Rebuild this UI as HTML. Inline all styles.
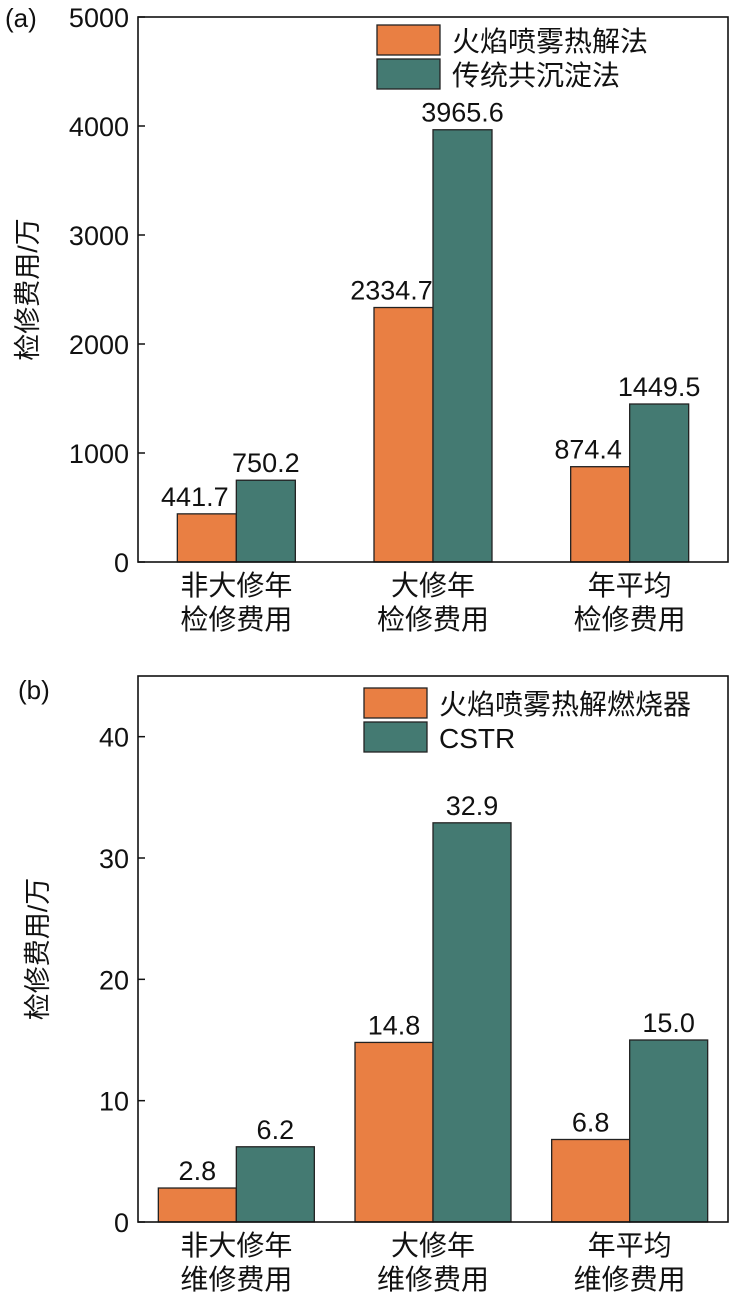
<!DOCTYPE html>
<html><head><meta charset="utf-8"><style>
body{margin:0;background:#fff;width:737px;height:1306px;overflow:hidden}
svg text{font-family:"Liberation Sans","Noto Sans CJK SC",sans-serif;fill:#111}
</style></head><body>
<svg id="s" width="737" height="1306" xmlns="http://www.w3.org/2000/svg"></svg>
<script>
const catsA = [["非大修年","检修费用"],["大修年","检修费用"],["年平均","检修费用"]];
const seriesA1 = [441.7, 2334.7, 874.4];
const seriesA2 = [750.2, 3965.6, 1449.5];
const labelsA1 = ["441.7","2334.7","874.4"];
const labelsA2 = ["750.2","3965.6","1449.5"];
const ticksA = [0,1000,2000,3000,4000,5000];
const legendA = ["火焰喷雾热解法","传统共沉淀法"];
const catsB = [["非大修年","维修费用"],["大修年","维修费用"],["年平均","维修费用"]];
const seriesB1 = [2.8, 14.8, 6.8];
const seriesB2 = [6.2, 32.9, 15.0];
const labelsB1 = ["2.8","14.8","6.8"];
const labelsB2 = ["6.2","32.9","15.0"];
const ticksB = [0,10,20,30,40];
const legendB = ["火焰喷雾热解燃烧器","CSTR"];

const NS="http://www.w3.org/2000/svg", svg=document.getElementById('s');
function el(t,a,txt,p){const e=document.createElementNS(NS,t);for(const k in a)e.setAttribute(k,a[k]);if(txt!=null)e.textContent=txt;(p||svg).appendChild(e);return e;}
const OR="#e97f43", TE="#447a72";

function chart(o){
  const g=el('g',{});
  
  
  const L=138,R=728,T=o.top,B=o.bottom;
  const y=v=>B-(v/o.max)*(B-T);
  const step=(R-L)/3, cx=i=>L+step*(i+0.5);
  o.ticks.forEach(t=>{
    const ln=el('line',{x1:L,x2:L+7,y1:y(t),y2:y(t),stroke:'#111','stroke-width':1.5},null,g);
    
    
    const tx=el('text',{x:L-9,y:y(t)+10,'text-anchor':'end','font-size':27},String(t),g);
    
    
  });
  o.s1.forEach((v,i)=>{
    const c=cx(i);
    const b1=el('rect',{x:c-o.bw,y:y(v),width:o.bw,height:B-y(v),fill:OR,stroke:'#222','stroke-width':1.3},null,g);
    
    
    const v2=o.s2[i];
    const b2=el('rect',{x:c,y:y(v2),width:o.bw,height:B-y(v2),fill:TE,stroke:'#222','stroke-width':1.3},null,g);
    
    
    const t1=el('text',{x:c-o.bw/2-o.off,y:y(v)-8,'text-anchor':'middle','font-size':27},o.l1[i],g);
    
    
    const t2=el('text',{x:c+o.bw/2,y:y(v2)-8,'text-anchor':'middle','font-size':27},o.l2[i],g);
    
    
    o.cats[i].forEach((s,j)=>{
      const ct=el('text',{x:c,y:B+33+j*34,'text-anchor':'middle','font-size':28},s,g);
      
      
    });
  });
  const fr=el('rect',{x:L,y:T,width:R-L,height:B-T,fill:'none',stroke:'#111','stroke-width':1.6},null,g);
  
  
  const yt=el('text',{transform:`translate(${o.id==='a'?37:47},${(T+B)/2}) rotate(-90)`,'text-anchor':'middle','font-size':27},'检修费用/万',g);
  
  
  const pl=el('text',{x:o.id==='a'?5:18,y:o.id==='a'?27:699,'font-size':26},o.id==='a'?'(a)':'(b)',g);
  
  
  [OR,TE].forEach((c,k)=>{
    const r=el('rect',{x:o.lx,y:o.ly+k*34,width:63,height:30,fill:c,stroke:'#222','stroke-width':1.3},null,g);
    
    
    const t=el('text',{x:o.lx+75,y:o.ly+k*34+26,'font-size':28},o.leg[k],g);
    
    
  });
}
chart({id:'a',name:'chart-a',top:17,bottom:562,max:5000,ticks:ticksA,s1:seriesA1,s2:seriesA2,l1:labelsA1,l2:labelsA2,cats:catsA,bw:59,lx:377,ly:25,leg:legendA,off:12});
chart({id:'b',name:'chart-b',top:676,bottom:1222,max:45,ticks:ticksB,s1:seriesB1,s2:seriesB2,l1:labelsB1,l2:labelsB2,cats:catsB,bw:78,lx:364,ly:688,leg:legendB,off:0});
</script>
</body></html>
